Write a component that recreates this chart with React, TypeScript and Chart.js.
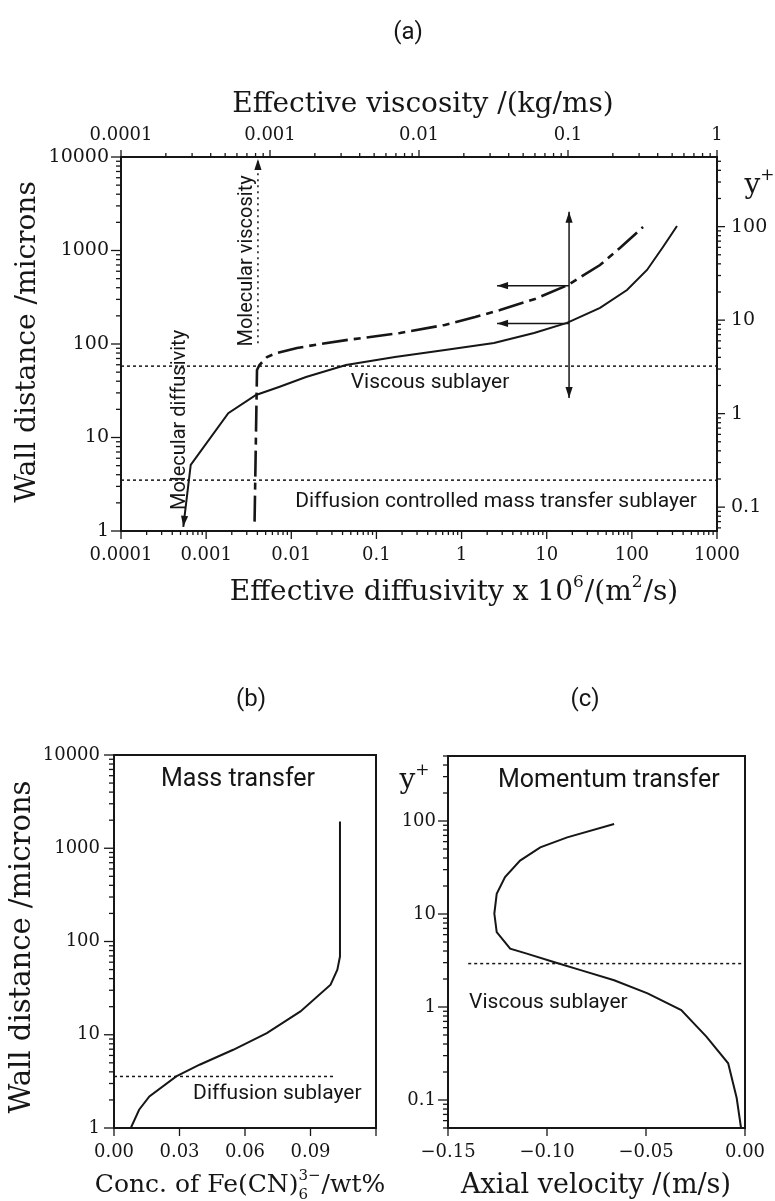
import React, { useEffect, useRef } from "react";
import { Chart, registerables } from "chart.js";

Chart.register(...registerables);

// ================= DATA : panel (a) =================
// Effective diffusivity (x10^6 m^2/s) vs wall distance (microns) — solid curve
const diffusivityX = [0.000539, 0.000659, 0.00182, 0.00385, 0.00717, 0.0149, 0.0439, 0.165, 0.639, 2.4, 7.1, 17.3, 42.3, 87.7, 150.7, 232, 339];
const diffusivityWall = [1.11, 5.08, 18.2, 28.5, 34.7, 44.4, 59.6, 72.6, 86.3, 102.5, 131, 168, 243, 378, 619, 1090, 1829];
// Effective viscosity (kg/ms) vs wall distance (microns) — dash-dot curve
const viscosityX = [0.000788, 0.000818, 0.00085, 0.000955, 0.00111, 0.00152, 0.00217, 0.00324, 0.00746, 0.0149, 0.0238, 0.035, 0.06, 0.1, 0.164, 0.223, 0.319];
const viscosityWall = [1.26, 52.7, 59.6, 72.6, 80.1, 90.6, 100, 110, 131, 160, 194, 231, 303, 428, 700, 1064, 1784];
// Molecular viscosity marker
const molecularViscosity = [0.00083, 0.00083];
const molecularViscosityWall = [102, 9500];
// Reading arrows
const arrowDiffusivity = [18.3, 18.3];
const arrowWallRange = [26.5, 2600];
const arrowLeftDiffusivity = [18.3, 2.61];
const arrowUpperWall = [421, 421];
const arrowLowerWall = [166, 166];
// Sublayers (microns)
const viscousSublayerWall = [58, 58];
const diffusionSublayerWall = [3.5, 3.5];
// Axis ranges and tick labels
const diffusivityRange = [0.0001, 1000];
const viscosityRange = [0.0001, 1];
const wallRange = [1, 10000];
const yPlusPerMicron = 1 / 18;
const diffusivityTicks = ["0.0001", "0.001", "0.01", "0.1", "1", "10", "100", "1000"];
const viscosityTicks = ["0.0001", "0.001", "0.01", "0.1", "1"];
const wallTicks = ["1", "10", "100", "1000", "10000"];
const yPlusTicksA = ["0.1", "1", "10", "100"];

// ================= DATA : panel (b) =================
const concX = [0.0077, 0.0115, 0.0162, 0.0285, 0.0392, 0.0546, 0.070, 0.0854, 0.0992, 0.1023, 0.1035, 0.1035];
const concWall = [1, 1.57, 2.18, 3.57, 4.77, 6.9, 10.4, 17.8, 34.4, 49.8, 69, 1932];
const concSublayerX = [0, 0.1006];
const concSublayerWall = [3.57, 3.57];
const concRange = [0, 0.12];
const concTickValues = [0, 0.03, 0.06, 0.09, 0.12];
const concTickLabels = ["0.00", "0.03", "0.06", "0.09", ""];

// ================= DATA : panel (c) =================
const velocityX = [-0.002, -0.0042, -0.0085, -0.0195, -0.0322, -0.0492, -0.0661, -0.083, -0.0966, -0.1102, -0.1186, -0.1254, -0.1266, -0.1254, -0.1212, -0.1136, -0.1034, -0.0898, -0.0661];
const velocityYPlus = [0.05, 0.105, 0.248, 0.48, 0.927, 1.4, 1.94, 2.49, 3.05, 3.75, 4.24, 6.4, 10.1, 16.5, 24.9, 37.5, 52.1, 66.7, 92.7];
const viscousSublayerX = [-0.1398, 0];
const viscousSublayerYPlus = [2.93, 2.93];
const velocityRange = [-0.15, 0];
const yPlusRangeC = [0.05, 500];
const velocityTickValues = [-0.15, -0.1, -0.05, 0];
const velocityTickLabels = ["\u22120.15", "\u22120.10", "\u22120.05", "0.00"];
const yPlusTicksC = ["0.1", "1", "10", "100"];

// ================= helpers =================
const SERIF = '"DejaVu Serif", "Liberation Serif", serif';
const SANS = 'Roboto, "DejaVu Sans", sans-serif';
const INK = "#161616";

type Pt = { x: number; y: number };
const pts = (xs: number[], ys: number[]): Pt[] => xs.map((x, i) => ({ x, y: ys[i] }));

const isDecade = (v: number) => Math.abs(Math.log10(v) - Math.round(Math.log10(v))) < 1e-6;

function logTickList(min: number, max: number) {
  const out: { value: number; major: boolean }[] = [];
  const e0 = Math.floor(Math.log10(min));
  const e1 = Math.ceil(Math.log10(max));
  for (let e = e0; e <= e1; e++) {
    for (let m = 1; m <= 9; m++) {
      const v = m * Math.pow(10, e);
      if (v >= min * 0.9999 && v <= max * 1.0001) out.push({ value: v, major: m === 1 });
    }
  }
  return out;
}

const logLabel = (labels: string[]) => (v: number) => {
  const hit = labels.find((l) => Math.abs(Math.log10(parseFloat(l)) - Math.log10(v)) < 1e-6);
  return hit ?? "";
};
const linLabel = (values: number[], labels: string[]) => (v: number) => {
  const i = values.findIndex((t) => Math.abs(t - v) < 1e-9);
  return i >= 0 ? labels[i] : "";
};

function scaleOpts(o: {
  type: "logarithmic" | "linear";
  position: "left" | "right" | "top" | "bottom";
  min: number;
  max: number;
  size: number;
  tl: number;
  pad: number;
  fontSize: number;
  tickList: () => { value: number }[];
  label: (v: number) => string;
}) {
  return {
    type: o.type,
    position: o.position,
    min: o.min,
    max: o.max,
    grid: { drawOnChartArea: false, drawTicks: true, tickLength: o.tl, color: "rgba(0,0,0,0)" },
    border: { display: false },
    ticks: {
      autoSkip: false,
      maxRotation: 0,
      minRotation: 0,
      padding: o.pad,
      color: INK,
      font: { family: SERIF, size: o.fontSize },
      callback: (v: any) => o.label(Number(v)),
    },
    afterBuildTicks: (s: any) => {
      s.ticks = o.tickList();
    },
    afterFit: (s: any) => {
      if (o.position === "left" || o.position === "right") s.width = o.size;
      else s.height = o.size;
    },
  } as any;
}

function line(data: Pt[], extra: Record<string, any> = {}) {
  return {
    data,
    showLine: true,
    borderColor: INK,
    backgroundColor: INK,
    borderWidth: 2,
    pointRadius: 0,
    fill: false,
    tension: 0,
    xAxisID: "x",
    yAxisID: "y",
    ...extra,
  } as any;
}

type Part = { t?: string; sup?: string; sub?: string };
type TextItem = {
  parts: Part[];
  x: number;
  y: number;
  xAxis?: string;
  yAxis?: string;
  family: string;
  size: number;
  rotate?: number;
  align?: "left" | "center" | "right";
};
type TickSpec = { id: string; side: "left" | "right" | "top" | "bottom"; major: number; minor: number };

function drawRich(ctx: CanvasRenderingContext2D, it: TextItem, x: number, y: number) {
  const size = it.size;
  const small = Math.round(size * 0.6);
  const big = `${size}px ${it.family}`;
  const sm = `${small}px ${it.family}`;
  ctx.save();
  ctx.translate(x, y);
  if (it.rotate) ctx.rotate(it.rotate);
  const widths = it.parts.map((p) => {
    if (p.t !== undefined) {
      ctx.font = big;
      return ctx.measureText(p.t).width;
    }
    ctx.font = sm;
    return Math.max(p.sup ? ctx.measureText(p.sup).width : 0, p.sub ? ctx.measureText(p.sub).width : 0) + 1;
  });
  const total = widths.reduce((a, b) => a + b, 0);
  let cx = it.align === "left" ? 0 : it.align === "right" ? -total : -total / 2;
  const base = size * 0.36;
  ctx.fillStyle = INK;
  ctx.textAlign = "left";
  ctx.textBaseline = "alphabetic";
  it.parts.forEach((p, i) => {
    if (p.t !== undefined) {
      ctx.font = big;
      ctx.fillText(p.t, cx, base);
    } else {
      ctx.font = sm;
      if (p.sup) ctx.fillText(p.sup, cx, base - size * 0.48);
      if (p.sub) ctx.fillText(p.sub, cx, base + size * 0.28);
    }
    cx += widths[i];
  });
  ctx.restore();
}

function decor(tickSpecs: TickSpec[], texts: TextItem[]) {
  return {
    id: "decor",
    afterDatasetsDraw(chart: any) {
      const ctx: CanvasRenderingContext2D = chart.ctx;
      chart.data.datasets.forEach((ds: any, i: number) => {
        if (!ds.arrow) return;
        const d = chart.getDatasetMeta(i).data;
        if (d.length < 2) return;
        const heads: [any, any][] = [];
        if (ds.arrow === "start" || ds.arrow === "both") heads.push([d[0], d[1]]);
        if (ds.arrow === "end" || ds.arrow === "both") heads.push([d[d.length - 1], d[d.length - 2]]);
        ctx.save();
        ctx.fillStyle = INK;
        for (const [tip, from] of heads) {
          const ang = Math.atan2(tip.y - from.y, tip.x - from.x);
          const L = 11, W = 3.6;
          ctx.beginPath();
          ctx.moveTo(tip.x, tip.y);
          ctx.lineTo(tip.x - L * Math.cos(ang) + W * Math.sin(ang), tip.y - L * Math.sin(ang) - W * Math.cos(ang));
          ctx.lineTo(tip.x - L * Math.cos(ang) - W * Math.sin(ang), tip.y - L * Math.sin(ang) + W * Math.cos(ang));
          ctx.closePath();
          ctx.fill();
        }
        ctx.restore();
      });
    },
    afterDraw(chart: any) {
      const ctx: CanvasRenderingContext2D = chart.ctx;
      const a = chart.chartArea;
      ctx.save();
      ctx.strokeStyle = INK;
      ctx.lineWidth = 2;
      ctx.strokeRect(a.left, a.top, a.right - a.left, a.bottom - a.top);
      ctx.lineWidth = 1.3;
      for (const t of tickSpecs) {
        const s = chart.scales[t.id];
        for (const tk of s.ticks) {
          const p = s.getPixelForValue(tk.value);
          const major = s.type === "logarithmic" ? isDecade(tk.value) : true;
          const len = major ? t.major : t.minor;
          ctx.beginPath();
          if (t.side === "bottom") {
            ctx.moveTo(p, a.bottom);
            ctx.lineTo(p, a.bottom + len);
          } else if (t.side === "top") {
            ctx.moveTo(p, a.top);
            ctx.lineTo(p, a.top - len);
          } else if (t.side === "left") {
            ctx.moveTo(a.left, p);
            ctx.lineTo(a.left - len, p);
          } else {
            ctx.moveTo(a.right, p);
            ctx.lineTo(a.right + len, p);
          }
          ctx.stroke();
        }
      }
      for (const it of texts) {
        const x = it.xAxis ? chart.scales[it.xAxis].getPixelForValue(it.x) : it.x;
        const y = it.yAxis ? chart.scales[it.yAxis].getPixelForValue(it.y) : it.y;
        drawRich(ctx, it, x, y);
      }
      ctx.restore();
    },
  };
}

const baseOptions = (padding: any) => ({
  responsive: false,
  animation: false as const,
  events: [] as any[],
  layout: { padding },
  plugins: { legend: { display: false }, tooltip: { enabled: false } },
  elements: { point: { radius: 0 } },
});

// ================= chart builders =================
function makeA(canvas: HTMLCanvasElement) {
  const yPlusRange = wallRange.map((w) => w * yPlusPerMicron);
  const texts: TextItem[] = [
    { parts: [{ t: "(a)" }], x: 408, y: 30, family: SANS, size: 24 },
    { parts: [{ t: "Effective viscosity /(kg/ms)" }], x: 423, y: 102, family: SERIF, size: 28 },
    {
      parts: [{ t: "Effective diffusivity x 10" }, { sup: "6" }, { t: "/(m" }, { sup: "2" }, { t: "/s)" }],
      x: 454, y: 590, family: SERIF, size: 28,
    },
    { parts: [{ t: "Wall distance /microns" }], x: 25, y: 342, family: SERIF, size: 28, rotate: -Math.PI / 2 },
    { parts: [{ t: "y" }, { sup: "+" }], x: 760, y: 183, family: SERIF, size: 28 },
    { parts: [{ t: "Molecular viscosity" }], x: 0.00068, y: 773, xAxis: "x2", yAxis: "y", family: SANS, size: 20, rotate: -Math.PI / 2 },
    { parts: [{ t: "Molecular diffusivity" }], x: 0.000467, y: 15.4, xAxis: "x", yAxis: "y", family: SANS, size: 20, rotate: -Math.PI / 2 },
    { parts: [{ t: "Viscous sublayer" }], x: 0.426, y: 41, xAxis: "x", yAxis: "y", family: SANS, size: 21 },
    { parts: [{ t: "Diffusion controlled mass transfer sublayer" }], x: 2.54, y: 2.15, xAxis: "x", yAxis: "y", family: SANS, size: 21 },
  ];
  const ticks: TickSpec[] = [
    { id: "x", side: "bottom", major: 8, minor: 4 },
    { id: "x2", side: "top", major: 7, minor: 4 },
    { id: "y", side: "left", major: 10, minor: 5 },
    { id: "y2", side: "right", major: 8, minor: 4 },
  ];
  return new Chart(canvas, {
    type: "scatter",
    data: {
      datasets: [
        line(pts(diffusivityX, diffusivityWall), { arrow: "start", borderWidth: 2 }),
        line(pts(viscosityX, viscosityWall), { xAxisID: "x2", borderDash: [26, 6, 7, 6], borderWidth: 2.6 }),
        line(pts(molecularViscosity, molecularViscosityWall), { xAxisID: "x2", borderDash: [2, 4], borderWidth: 1.5, arrow: "end" }),
        line(pts(arrowDiffusivity, arrowWallRange), { arrow: "both", borderWidth: 1.5 }),
        line(pts(arrowLeftDiffusivity, arrowUpperWall), { arrow: "end", borderWidth: 1.5 }),
        line(pts(arrowLeftDiffusivity, arrowLowerWall), { arrow: "end", borderWidth: 1.5 }),
        line(pts(diffusivityRange, viscousSublayerWall), { borderDash: [3, 3], borderWidth: 1.5 }),
        line(pts(diffusivityRange, diffusionSublayerWall), { borderDash: [3, 3], borderWidth: 1.5 }),
      ],
    },
    options: {
      ...baseOptions(0),
      scales: {
        x: scaleOpts({
          type: "logarithmic", position: "bottom", min: diffusivityRange[0], max: diffusivityRange[1],
          size: 670, tl: 8, pad: 6, fontSize: 18,
          tickList: () => logTickList(diffusivityRange[0], diffusivityRange[1]), label: logLabel(diffusivityTicks),
        }),
        x2: scaleOpts({
          type: "logarithmic", position: "top", min: viscosityRange[0], max: viscosityRange[1],
          size: 157, tl: 7, pad: 4, fontSize: 18,
          tickList: () => logTickList(viscosityRange[0], viscosityRange[1]), label: logLabel(viscosityTicks),
        }),
        y: scaleOpts({
          type: "logarithmic", position: "left", min: wallRange[0], max: wallRange[1],
          size: 121, tl: 10, pad: 2, fontSize: 19,
          tickList: () => logTickList(wallRange[0], wallRange[1]), label: logLabel(wallTicks),
        }),
        y2: scaleOpts({
          type: "logarithmic", position: "right", min: yPlusRange[0], max: yPlusRange[1],
          size: 58, tl: 8, pad: 6, fontSize: 19,
          tickList: () => logTickList(yPlusRange[0], yPlusRange[1]), label: logLabel(yPlusTicksA),
        }),
      },
    } as any,
    plugins: [decor(ticks, texts)],
  });
}

function makeB(canvas: HTMLCanvasElement) {
  const texts: TextItem[] = [
    { parts: [{ t: "(b)" }], x: 251, y: 697, family: SANS, size: 24 },
    { parts: [{ t: "Mass transfer" }], x: 0.0568, y: 5823, xAxis: "x", yAxis: "y", family: SANS, size: 25 },
    { parts: [{ t: "Diffusion sublayer" }], x: 0.0748, y: 2.45, xAxis: "x", yAxis: "y", family: SANS, size: 21 },
    { parts: [{ t: "Wall distance /microns" }], x: 20, y: 947, family: SERIF, size: 29, rotate: -Math.PI / 2 },
    {
      parts: [{ t: "Conc. of Fe(CN)" }, { sup: "3\u2212", sub: "6" }, { t: "/wt%" }],
      x: 240, y: 1183, family: SERIF, size: 25,
    },
  ];
  const ticks: TickSpec[] = [
    { id: "x", side: "bottom", major: 8, minor: 8 },
    { id: "y", side: "left", major: 10, minor: 5 },
  ];
  return new Chart(canvas, {
    type: "scatter",
    data: {
      datasets: [
        line(pts(concX, concWall), { borderWidth: 2 }),
        line(pts(concSublayerX, concSublayerWall), { borderDash: [3, 3], borderWidth: 1.5 }),
      ],
    },
    options: {
      ...baseOptions({ top: 755, right: 399, left: 0, bottom: 0 }),
      scales: {
        x: scaleOpts({
          type: "linear", position: "bottom", min: concRange[0], max: concRange[1],
          size: 73, tl: 8, pad: 6, fontSize: 18,
          tickList: () => concTickValues.map((value) => ({ value })), label: linLabel(concTickValues, concTickLabels),
        }),
        y: scaleOpts({
          type: "logarithmic", position: "left", min: wallRange[0], max: wallRange[1],
          size: 114, tl: 10, pad: 4, fontSize: 18,
          tickList: () => logTickList(wallRange[0], wallRange[1]), label: logLabel(wallTicks),
        }),
      },
    } as any,
    plugins: [decor(ticks, texts)],
  });
}

function makeC(canvas: HTMLCanvasElement) {
  const texts: TextItem[] = [
    { parts: [{ t: "(c)" }], x: 585, y: 697, family: SANS, size: 24 },
    { parts: [{ t: "y" }, { sup: "+" }], x: 415, y: 778, family: SERIF, size: 28 },
    { parts: [{ t: "Momentum transfer" }], x: -0.0688, y: 291, xAxis: "x", yAxis: "y", family: SANS, size: 25 },
    { parts: [{ t: "Viscous sublayer" }], x: -0.0993, y: 1.19, xAxis: "x", yAxis: "y", family: SANS, size: 21 },
    { parts: [{ t: "Axial velocity /(m/s)" }], x: 596, y: 1183, family: SERIF, size: 27 },
  ];
  const ticks: TickSpec[] = [
    { id: "x", side: "bottom", major: 8, minor: 8 },
    { id: "y", side: "left", major: 10, minor: 5 },
  ];
  return new Chart(canvas, {
    type: "scatter",
    data: {
      datasets: [
        line(pts(velocityX, velocityYPlus), { borderWidth: 2 }),
        line(pts(viscousSublayerX, viscousSublayerYPlus), { borderDash: [3, 3], borderWidth: 1.5 }),
      ],
    },
    options: {
      ...baseOptions({ top: 756, right: 30, left: 0, bottom: 0 }),
      scales: {
        x: scaleOpts({
          type: "linear", position: "bottom", min: velocityRange[0], max: velocityRange[1],
          size: 73, tl: 8, pad: 6, fontSize: 18,
          tickList: () => velocityTickValues.map((value) => ({ value })), label: linLabel(velocityTickValues, velocityTickLabels),
        }),
        y: scaleOpts({
          type: "logarithmic", position: "left", min: yPlusRangeC[0], max: yPlusRangeC[1],
          size: 448, tl: 10, pad: 2, fontSize: 18,
          tickList: () => logTickList(yPlusRangeC[0], yPlusRangeC[1]), label: logLabel(yPlusTicksC),
        }),
      },
    } as any,
    plugins: [decor(ticks, texts)],
  });
}

export default function App() {
  const aRef = useRef<HTMLCanvasElement>(null);
  const bRef = useRef<HTMLCanvasElement>(null);
  const cRef = useRef<HTMLCanvasElement>(null);

  useEffect(() => {
    const charts = [makeA(aRef.current!), makeB(bRef.current!), makeC(cRef.current!)];
    return () => charts.forEach((c) => c.destroy());
  }, []);

  const cs: React.CSSProperties = { position: "absolute", left: 0, top: 0, width: 775, height: 1201 };
  return (
    <div style={{ position: "fixed", left: 0, top: 0, width: 775, height: 1201, background: "#fff", overflow: "hidden" }}>
      <canvas ref={aRef} width={775} height={1201} style={cs} />
      <canvas ref={bRef} width={775} height={1201} style={cs} />
      <canvas ref={cRef} width={775} height={1201} style={cs} />
    </div>
  );
}
